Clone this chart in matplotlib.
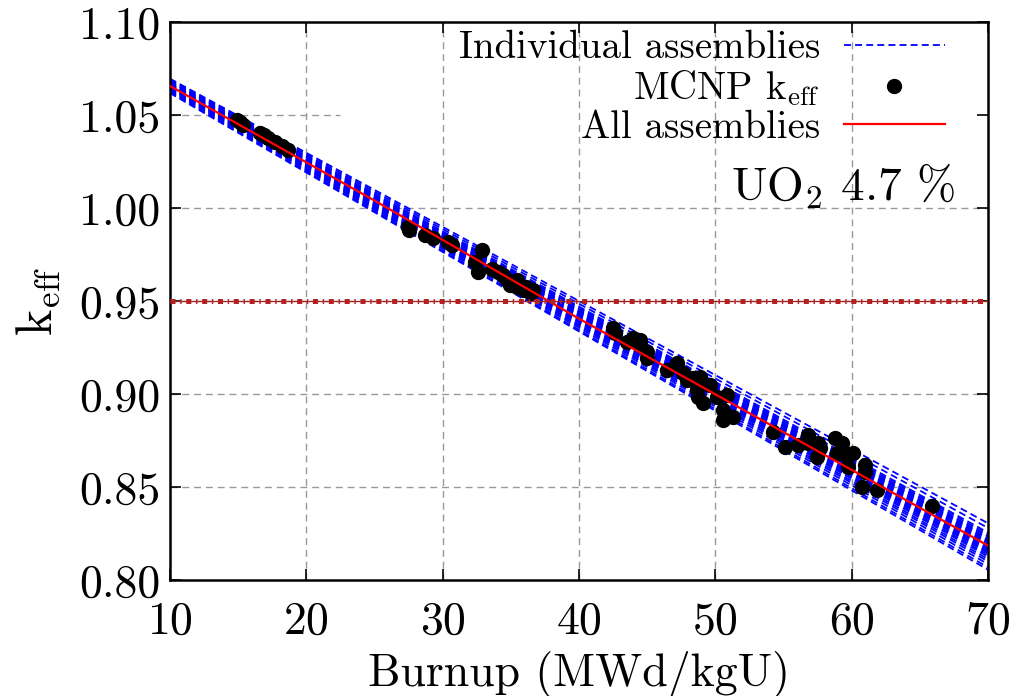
import matplotlib
matplotlib.use("Agg")
import matplotlib.pyplot as plt
import numpy as np

plt.rcParams['font.family'] = ['cmr10', 'DejaVu Serif']
plt.rcParams['mathtext.fontset'] = 'cm'
plt.rcParams['axes.formatter.use_mathtext'] = True
plt.rcParams['lines.scale_dashes'] = False

# individual assembly fits: k_eff at burnup 10 and 70
fit_burnup = [10, 70]
k_at_10 = [1.0695, 1.0690, 1.0685, 1.0680, 1.0678, 1.0672, 1.0670, 1.0668,
           1.0665, 1.0662, 1.0660, 1.0658, 1.0655, 1.0652, 1.0650, 1.0648,
           1.0645, 1.0642, 1.0640, 1.0636, 1.0632, 1.0628, 1.0622, 1.0618]
k_at_70 = [0.8305, 0.8280, 0.8255, 0.8245, 0.8235, 0.8228, 0.8220, 0.8212,
           0.8205, 0.8198, 0.8190, 0.8183, 0.8175, 0.8168, 0.8160, 0.8152,
           0.8145, 0.8135, 0.8125, 0.8112, 0.8100, 0.8085, 0.8068, 0.8055]

# all-assembly fit
all_burnup = [10, 25, 40, 55, 70]
all_keff = [1.0656, 1.0040, 0.9405, 0.8795, 0.8185]

# MCNP points
mcnp_burnup = [14.89, 15.10, 15.37, 16.60, 16.90, 17.21, 17.70, 18.19, 18.68,
               27.48, 27.56, 28.70, 29.30, 30.40, 30.66, 32.86, 32.37, 32.60,
               33.60, 34.07, 34.45, 34.70, 34.94, 35.43, 35.43, 35.95, 36.15,
               36.65, 36.50,
               42.50, 42.64, 43.50, 43.99, 44.47, 44.47, 44.96, 44.96, 46.43,
               47.16, 47.65, 47.90, 48.39, 48.75, 48.88, 48.63, 48.75, 49.12,
               49.61, 50.10, 50.83, 50.59, 50.59, 51.32,
               54.25, 55.11, 56.09, 56.83, 56.83, 57.56, 57.68, 57.43, 58.78,
               59.27, 58.90, 59.51, 60.12, 59.76, 60.98, 60.98, 60.73, 61.83,
               65.92]
mcnp_keff = [1.0473, 1.0462, 1.0446, 1.0402, 1.0392, 1.0375, 1.0357, 1.0333, 1.0312,
             0.9900, 0.9882, 0.9855, 0.9837, 0.9819, 0.9800, 0.9774, 0.9711, 0.9658,
             0.9670, 0.9658, 0.9640, 0.9613, 0.9586, 0.9613, 0.9577, 0.9560, 0.9577,
             0.9560, 0.9541,
             0.9353, 0.9326, 0.9281, 0.9299, 0.9290, 0.9263, 0.9228, 0.9192, 0.9129,
             0.9165, 0.9111, 0.9075, 0.9084, 0.9057, 0.9093, 0.9021, 0.8986, 0.8950,
             0.9048, 0.8986, 0.8995, 0.8914, 0.8860, 0.8878,
             0.8797, 0.8717, 0.8726, 0.8780, 0.8735, 0.8735, 0.8708, 0.8663, 0.8762,
             0.8735, 0.8681, 0.8672, 0.8681, 0.8609, 0.8618, 0.8582, 0.8502, 0.8484,
             0.8398]

k_limit = 0.95
xticks = [10, 20, 30, 40, 50, 60, 70]
yticks = [0.80, 0.85, 0.90, 0.95, 1.00, 1.05, 1.10]

fig = plt.figure(figsize=(10.13, 6.96), dpi=100)
ax = fig.add_axes([0.1678, 0.1667, 0.8075, 0.8017])

grid_kw = dict(color='#999999', lw=1.0, linestyle=(0, (5, 3.5)), zorder=0)
for xv in xticks[1:-1]:
    ax.axvline(xv, **grid_kw)
for yv in yticks[1:-1]:
    if yv == 1.05:
        ax.plot([10, 22.5], [yv, yv], **grid_kw)
    else:
        ax.axhline(yv, **grid_kw)

for i in range(len(k_at_10)):
    ax.plot(fit_burnup, [k_at_10[i], k_at_70[i]], color='#0000ff', lw=1.3,
            linestyle=(0, (5, 3)), zorder=2,
            label='Individual assemblies' if i == 0 else None)

ax.plot(mcnp_burnup, mcnp_keff, 'o', color='black', ms=10, zorder=3,
        label=r'MCNP k$_{\rm eff}$')
ax.plot(all_burnup, all_keff, color='#ff0000', lw=1.6, zorder=4,
        label='All assemblies')

# 0.95 limit
ax.axhline(k_limit, color='#a02020', lw=0.9, zorder=5)
ax.axhline(k_limit, color='#b22222', lw=3.6, linestyle=(0, (3.6, 3.4, 1.0, 3.4)),
           dash_capstyle='butt', zorder=5)

ax.text(67.6, 1.0038, r'UO$_2$ 4.7 %', fontsize=34, ha='right', va='baseline')

leg = ax.legend(loc='upper right', bbox_to_anchor=(0.947, 0.985), frameon=False,
                markerfirst=False, fontsize=28, handlelength=2.6,
                handletextpad=0.6, labelspacing=0.05, borderpad=0,
                borderaxespad=0, numpoints=1)
for t in leg.get_texts():
    t.set_ha('right')

ax.set_xlim(10, 70)
ax.set_ylim(0.80, 1.10)
ax.set_xticks(xticks)
ax.set_yticks(yticks)
ax.set_yticklabels(['%.2f' % v for v in yticks])
ax.tick_params(direction='in', length=8, width=1.2, top=True, right=True,
               labelsize=33)
ax.tick_params(axis='x', pad=15)
ax.tick_params(axis='y', pad=7)
for s in ax.spines.values():
    s.set_linewidth(1.8)

ax.set_xlabel('Burnup (MWd/kgU)', fontsize=33, labelpad=6)
ax.set_ylabel(r'k$_{\rm eff}$', fontsize=36, labelpad=12)

fig.savefig('out.png', dpi=100)
